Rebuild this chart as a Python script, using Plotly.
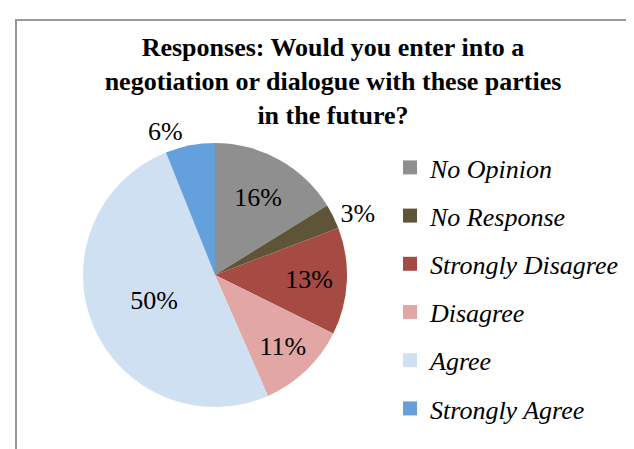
import plotly.graph_objects as go

categories = ["No Opinion", "No Response", "Strongly Disagree", "Disagree", "Agree", "Strongly Agree"]
values = [16, 3, 13, 11, 50, 6]
colors = ["#8f8f8f", "#5e5539", "#a54b44", "#e2a6a4", "#cfe0f2", "#63a0dc"]
text_positions = ["inside", "outside", "inside", "inside", "inside", "outside"]
title_text = "Responses: Would you enter into a<br>negotiation or dialogue with these parties<br>in the future?"

W, H = 634, 449
serif = "Liberation Serif, Times New Roman, serif"

cx, cy, r = 207, 267, 132

fig = go.Figure()
fig.add_trace(go.Pie(
    labels=categories,
    values=values,
    sort=False,
    direction="clockwise",
    rotation=0,
    marker=dict(colors=colors, line=dict(width=0)),
    texttemplate="%{value}%",
    textposition=text_positions,
    insidetextorientation="horizontal",
    textfont=dict(family=serif, size=26, color="black"),
    domain=dict(x=[(cx - r) / W, (cx + r) / W], y=[(H - cy - r) / H, (H - cy + r) / H]),
    showlegend=False,
    hoverinfo="label+percent",
))

# legend entries, one per category
for name, col in zip(categories, colors):
    fig.add_trace(go.Scatter(
        x=[None], y=[None], mode="markers", name=name,
        marker=dict(symbol="square", size=14, color=col),
        legendgroup=name, showlegend=True,
    ))

fig.update_layout(
    width=W, height=H,
    margin=dict(l=0, r=0, t=0, b=0),
    paper_bgcolor="white",
    plot_bgcolor="white",
    xaxis=dict(visible=False),
    yaxis=dict(visible=False),
    title=dict(
        text=title_text,
        x=325 / W, xanchor="center", xref="paper",
        y=1 - 48 / H, yanchor="top", yref="paper",
        font=dict(family=serif, size=26, color="black", weight="bold"),
    ),
    legend=dict(
        x=382 / W, xanchor="left",
        y=1 - 136 / H, yanchor="top",
        font=dict(family=serif, size=26, color="black", style="italic"),
        tracegroupgap=11.4,
        bgcolor="rgba(0,0,0,0)",
        itemclick=False,
    ),
    shapes=[dict(
        type="rect", xref="paper", yref="paper",
        x0=8 / W, x1=1.05, y0=-0.05, y1=1 - 12 / H,
        line=dict(color="#9a9a9a", width=2),
        fillcolor="rgba(0,0,0,0)", layer="above",
    )],
)

fig.write_html("out.html")
